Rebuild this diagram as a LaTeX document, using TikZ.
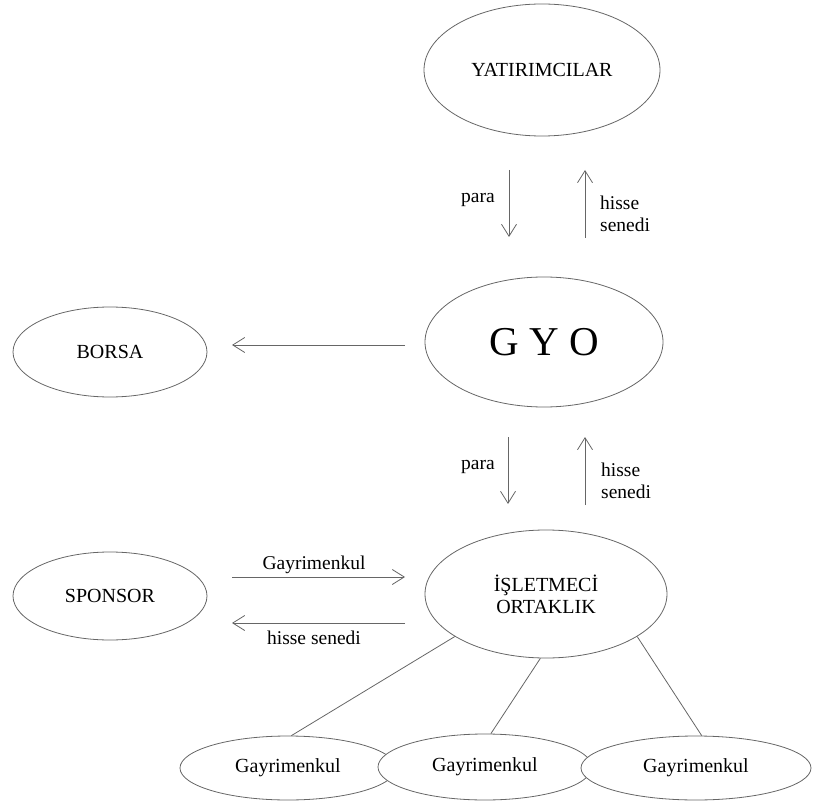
\documentclass[tikz,border=0pt]{standalone}
\usepackage{fontspec}
\setmainfont{Liberation Serif}
\usetikzlibrary{shapes.geometric,arrows.meta}
\begin{document}
\begin{tikzpicture}[x=1pt,y=-1pt,
  oval/.style={ellipse, draw=black!60, line width=0.8pt, inner sep=0pt,
    font=\fontsize{20}{22}\selectfont, align=center},
  flow/.style={draw=black!60, line width=0.8pt,
    -{Straight Barb[length=12pt,width=15pt,line width=0.8pt]}},
  link/.style={draw=black!60, line width=0.8pt},
  lbl/.style={font=\fontsize{19.5}{22}\selectfont, inner sep=0pt}]
\useasboundingbox (0,0) rectangle (814,802);

% main parties
\node[oval, minimum width=236, minimum height=132] (yat) at (542,70) {YATIRIMCILAR};
\node[oval, minimum width=238, minimum height=130, font=\fontsize{41}{44}\selectfont] (gyo) at (544,342) {G Y O};
\node[oval, minimum width=194, minimum height=90] (borsa) at (110,352) {BORSA};
\node[oval, minimum width=194, minimum height=88] (sponsor) at (110,596) {SPONSOR};
\node[oval, minimum width=242, minimum height=128] (isl) at (546,594) {İŞLETMECİ\\ORTAKLIK};

% real estate holdings (each one laid over the previous)
\node[oval, minimum width=216, minimum height=64] (g1) at (288,768) {Gayrimenkul};
\node[oval, fill=white, minimum width=214, minimum height=66] (g2) at (485,767) {Gayrimenkul};
\node[oval, fill=white, minimum width=230, minimum height=64] (g3) at (696,768) {Gayrimenkul};

% arrow end points
\coordinate (p1s) at (509,170); \coordinate (p1e) at (509,237);
\coordinate (h1s) at (585,238); \coordinate (h1e) at (585,170);
\coordinate (p2s) at (508,437); \coordinate (p2e) at (508,504);
\coordinate (h2s) at (585,505); \coordinate (h2e) at (585,437);
\coordinate (bs) at (405,345);  \coordinate (be) at (232,345);
\coordinate (gs) at (232,577);  \coordinate (ge) at (405,577);
\coordinate (ss) at (405,623);  \coordinate (se) at (232,623);

% flows
\draw[flow] (p1s) -- (p1e);
\draw[flow] (h1s) -- (h1e);
\draw[flow] (p2s) -- (p2e);
\draw[flow] (h2s) -- (h2e);
\draw[flow] (bs) -- (be);
\draw[flow] (gs) -- (ge);
\draw[flow] (ss) -- (se);

% flow labels
\node[lbl] (lp1) at (478,200) {para};
\node[lbl, anchor=west, align=left] (lh1) at (600,214) {hisse\\senedi};
\node[lbl] (lp2) at (478,467) {para};
\node[lbl, anchor=west, align=left] (lh2) at (601,481) {hisse\\senedi};
\node[lbl] (lg) at (314,565) {Gayrimenkul};
\node[lbl] (ls) at (314,638) {hisse senedi};

% ownership links
\draw[link] (isl.205) -- (g1.84);
\draw[link] (isl.265) -- (g2.80);
\draw[link] (isl.335) -- (g3.80);
\end{tikzpicture}
\end{document}
